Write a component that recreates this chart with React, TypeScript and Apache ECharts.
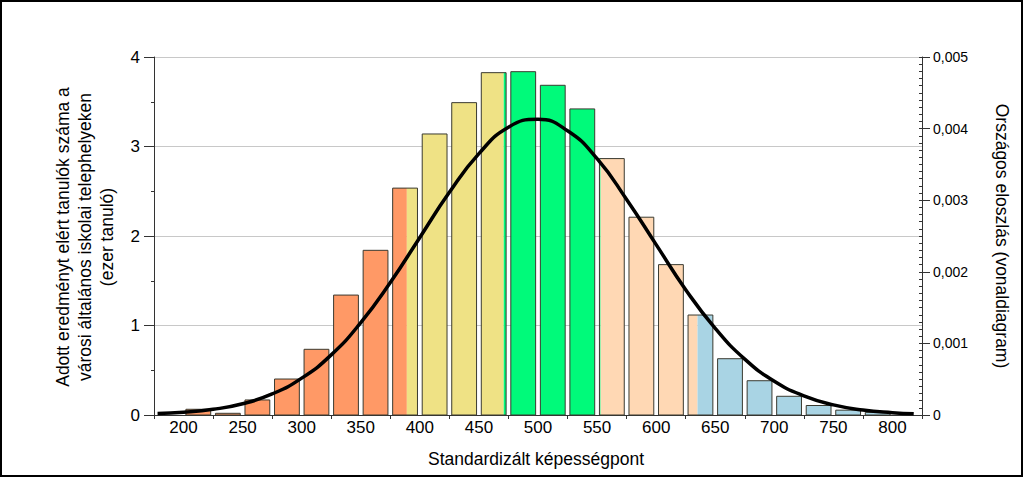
import React, { useEffect, useRef } from "react";
import * as echarts from "echarts";

// ---- data ----
const binStarts = [200, 225, 250, 275, 300, 325, 350, 375, 400, 425, 450, 475, 500, 525, 550, 575, 600, 625, 650, 675, 700, 725, 750, 775];
const barValues = [0.064, 0.019, 0.168, 0.402, 0.734, 1.34, 1.84, 2.535, 3.14, 3.49, 3.825, 3.836, 3.684, 3.42, 2.865, 2.21, 1.68, 1.117, 0.629, 0.383, 0.209, 0.106, 0.054, 0.03];
const levelBounds = [389, 471, 553, 635];
const levelColors = ["#FF9966", "#EFE285", "#00FA7A", "#FFD8B4", "#A9D4E4"];

const lineX = [178, 200, 225, 250, 275, 300, 325, 350, 375, 400, 425, 450, 475, 500, 525, 550, 575, 600, 625, 650, 675, 700, 725, 750, 775, 800, 818];
const lineY = [0.00002, 0.000037, 0.000079, 0.000157, 0.000294, 0.000515, 0.00084, 0.00129, 0.00185, 0.00248, 0.00311, 0.00365, 0.00402, 0.00413, 0.00397, 0.00358, 0.00301, 0.00238, 0.00175, 0.00121, 0.00078, 0.00047, 0.000267, 0.000141, 0.00007, 0.000033, 0.000018];

const leftTicks = { min: 0, max: 4, step: 1 };
const rightTicks = { min: 0, max: 0.005, step: 0.001 };

const BIN_WIDTH = 25;
const BAR_PAD = 2;
const FONT = "'Liberation Sans', Arial, sans-serif";

export default function App() {
  const ref = useRef<HTMLDivElement>(null);
  useEffect(() => {
    if (!ref.current) return;
    const chart = echarts.init(ref.current, null, { renderer: "svg" });
    const barData = binStarts.map((s, i) => [s, s + BIN_WIDTH, barValues[i]]);
    const lineData = lineX.map((x, i) => [x, lineY[i]]);

    const renderItem = (params: any, api: any) => {
      const x0 = api.value(0) as number;
      const x1 = api.value(1) as number;
      const h = api.value(2) as number;
      const left = x0 + BAR_PAD;
      const right = x1 - BAR_PAD;
      const children: any[] = [];
      for (let i = 0; i <= levelBounds.length; i++) {
        const lo = i === 0 ? -Infinity : levelBounds[i - 1];
        const hi = i === levelBounds.length ? Infinity : levelBounds[i];
        const s = Math.max(left, lo);
        const e = Math.min(right, hi);
        if (e > s) {
          const p1 = api.coord([s, h]);
          const p2 = api.coord([e, 0]);
          children.push({
            type: "rect",
            shape: { x: p1[0], y: p1[1], width: p2[0] - p1[0], height: p2[1] - p1[1] },
            style: { fill: levelColors[i], stroke: "none" },
          });
        }
      }
      const a = api.coord([left, h]);
      const b = api.coord([right, 0]);
      children.push({
        type: "rect",
        shape: { x: a[0], y: a[1], width: b[0] - a[0], height: b[1] - a[1] },
        style: { fill: "none", stroke: "#3a3a30", lineWidth: 1 },
      });
      return { type: "group", children };
    };

    const axisColor = "#333";
    chart.setOption({
      animation: false,
      textStyle: { fontFamily: FONT },
      grid: { left: 154, right: 102, top: 57, bottom: 63, containLabel: false },
      xAxis: [
        {
          type: "value",
          position: "bottom",
          min: 175,
          max: 825,
          interval: 50,
          axisLine: { show: true, onZero: false, lineStyle: { color: axisColor, width: 1 } },
          axisTick: { show: true, length: 4, lineStyle: { color: axisColor } },
          axisLabel: { show: false },
          splitLine: { show: false },
        },
        {
          type: "value",
          position: "bottom",
          min: 175,
          max: 825,
          interval: 25,
          axisLine: { show: false },
          axisTick: { show: false },
          axisLabel: {
            show: true,
            margin: 4,
            fontSize: 17,
            color: "#000",
            fontFamily: FONT,
            formatter: (v: number) => (Math.round(v) % 50 === 0 ? String(Math.round(v)) : ""),
          },
          splitLine: { show: false },
        },
      ],
      yAxis: [
        {
          type: "value",
          position: "left",
          min: leftTicks.min,
          max: leftTicks.max,
          interval: leftTicks.step,
          axisLine: { show: true, lineStyle: { color: axisColor } },
          axisTick: { show: true, length: 10, lineStyle: { color: axisColor } },
          minorTick: { show: true, splitNumber: 2, length: 3, lineStyle: { color: axisColor } },
          axisLabel: { fontSize: 17, color: "#000", margin: 14, fontFamily: FONT },
          splitLine: { show: true, lineStyle: { color: "#c8c8c8", width: 1 } },
        },
        {
          type: "value",
          position: "right",
          min: rightTicks.min,
          max: rightTicks.max,
          interval: rightTicks.step,
          axisLine: { show: true, lineStyle: { color: axisColor } },
          axisTick: { show: true, length: 8, lineStyle: { color: axisColor } },
          axisLabel: {
            fontSize: 14,
            color: "#000",
            margin: 11,
            fontFamily: FONT,
            formatter: (v: number) => (v === 0 ? "0" : v.toFixed(3).replace(".", ",")),
          },
          splitLine: { show: false },
        },
        {
          type: "value",
          position: "right",
          min: 0,
          max: 0.005,
          interval: 0.0001,
          axisLine: { show: false },
          axisTick: { show: true, inside: true, length: 3, lineStyle: { color: axisColor } },
          axisLabel: { show: false },
          splitLine: { show: false },
        },
      ],
      series: [
        {
          type: "custom",
          xAxisIndex: 0,
          yAxisIndex: 0,
          renderItem,
          encode: { x: [0, 1], y: 2 },
          data: barData,
          z: 2,
        },
        {
          type: "line",
          xAxisIndex: 0,
          yAxisIndex: 1,
          data: lineData,
          smooth: true,
          showSymbol: false,
          lineStyle: { color: "#000", width: 3.5 },
          z: 5,
        },
      ],
      graphic: [
        {
          type: "rect",
          shape: { x: 1, y: 1, width: 1021, height: 475 },
          style: { fill: "none", stroke: "#000", lineWidth: 2 },
          silent: true,
        },
        {
          type: "text",
          x: 536,
          y: 459,
          style: {
            text: "Standardizált képességpont",
            fontSize: 17.5,
            fontFamily: FONT,
            fill: "#000",
            align: "center",
            verticalAlign: "middle",
          },
        },
        {
          type: "text",
          x: 85,
          y: 237,
          rotation: Math.PI / 2,
          style: {
            text: "Adott eredményt elért tanulók száma a\nvárosi általános iskolai telephelyeken\n(ezer tanuló)",
            fontSize: 17.5,
            lineHeight: 22,
            fontFamily: FONT,
            fill: "#000",
            align: "center",
            verticalAlign: "middle",
          },
        },
        {
          type: "text",
          x: 1002,
          y: 236,
          rotation: -Math.PI / 2,
          style: {
            text: "Országos eloszlás (vonaldiagram)",
            fontSize: 17.5,
            fontFamily: FONT,
            fill: "#000",
            align: "center",
            verticalAlign: "middle",
          },
        },
      ],
    });
    return () => chart.dispose();
  }, []);
  return (
    <div
      ref={ref}
      style={{ position: "fixed", left: 0, top: 0, width: 1024, height: 478, background: "#fff" }}
    />
  );
}
